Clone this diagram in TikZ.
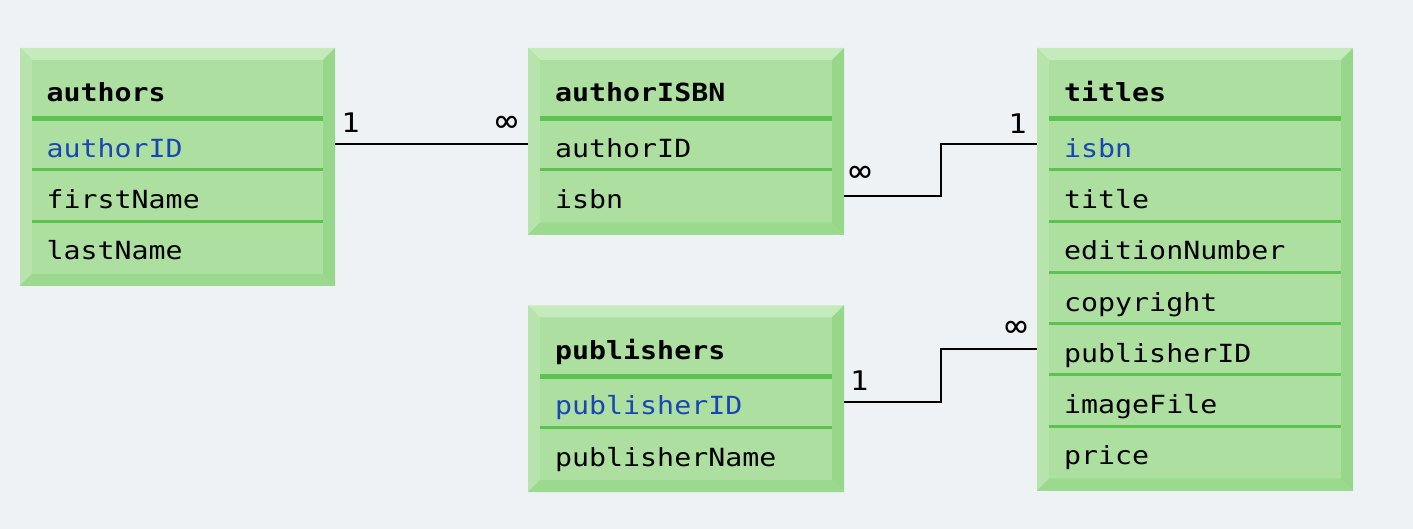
\documentclass[tikz,border=0pt]{standalone}
\usepackage{fontspec}
\usetikzlibrary{calc}
\newfontfamily\ermono[FakeStretch=1.13]{DejaVu Sans Mono}
\definecolor{erbg}{RGB}{238,242,245}
\definecolor{ermain}{RGB}{172,223,160}
\definecolor{ertop}{RGB}{197,234,188}
\definecolor{erleft}{RGB}{182,228,172}
\definecolor{erright}{RGB}{150,215,137}
\definecolor{erbottom}{RGB}{155,217,143}
\definecolor{erdiv}{RGB}{92,194,80}
\definecolor{erkey}{RGB}{24,70,180}
\newcommand\erbox[5]{% name, x1, x2, yh, nrows
  \pgfmathsetmacro\erYa{#4-70.8}
  \pgfmathsetmacro\erYb{#4+51.2*#5+13.5}
  \pgfmathsetmacro\erXa{#2+12}
  \pgfmathsetmacro\erXb{#3-12}
  \pgfmathsetmacro\erYc{\erYa+12}
  \pgfmathsetmacro\erYd{\erYb-12}
  \pgfmathsetmacro\erW{#3-#2}
  \pgfmathsetmacro\erH{\erYb-\erYa}
  \node[boxnode, minimum width=\erW pt, minimum height=\erH pt, anchor=north west] (#1) at (#2,\erYa) {};
  \fill[ertop] (#2,\erYa) -- (#3,\erYa) -- (\erXb,\erYc) -- (\erXa,\erYc) -- cycle;
  \fill[erleft] (#2,\erYa) -- (\erXa,\erYc) -- (\erXa,\erYd) -- (#2,\erYb) -- cycle;
  \fill[erright] (#3,\erYa) -- (#3,\erYb) -- (\erXb,\erYd) -- (\erXb,\erYc) -- cycle;
  \fill[erbottom] (#2,\erYb) -- (#3,\erYb) -- (\erXb,\erYd) -- (\erXa,\erYd) -- cycle;
  \fill[erdiv] (\erXa,#4-2.3) rectangle (\erXb,#4+2.3);
  \pgfmathtruncatemacro\erN{#5-1}
  \ifnum\erN>0
    \foreach \k in {1,...,\erN} {
      \fill[erdiv] (\erXa,{#4+51.2*\k-1.5}) rectangle (\erXb,{#4+51.2*\k+1.5});
    }
  \fi
}
\tikzset{
  boxnode/.style={rectangle, inner sep=0pt, fill=ermain},
  headtext/.style={anchor=base west, inner sep=0pt, font=\ermono\bfseries\fontsize{25}{30}\selectfont},
  rowtext/.style={anchor=west, inner sep=0pt, text height=32pt, text depth=6pt, font=\ermono\fontsize{25}{30}\selectfont},
  keytext/.style={rowtext, text=erkey},
  conn/.style={draw=black, line width=2pt},
  card/.style={anchor=base, inner sep=0pt, font=\ermono\fontsize{27}{30}\selectfont},
  cardinf/.style={anchor=base, inner sep=0pt, font=\ermono\fontsize{33}{36}\selectfont}
}
\begin{document}
\begin{tikzpicture}[x=1pt, y=-1pt]
\useasboundingbox (0,0) rectangle (1413,529);
\fill[erbg] (0,0) rectangle (1413,529);

% authors
\erbox{authors}{20}{335}{118.8}{3}
\node[headtext] (a-h) at (46.5,101.8) {authors};
\node[keytext] (a-authorID) at (46.5,{118.8+25.7}) {authorID};
\node[rowtext] (a-firstName) at (46.5,{118.8+51.2+25.7}) {firstName};
\node[rowtext] (a-lastName) at (46.5,{118.8+2*51.2+25.7}) {lastName};

% authorISBN
\erbox{aisbn}{528}{844}{118.8}{2}
\node[headtext] (ai-h) at (555,101.8) {authorISBN};
\node[rowtext] (ai-authorID) at (555,{118.8+25.7}) {authorID};
\node[rowtext] (ai-isbn) at (555,{118.8+51.2+25.7}) {isbn};

% publishers
\erbox{pubs}{528}{844}{376.2}{2}
\node[headtext] (p-h) at (555,359.2) {publishers};
\node[keytext] (p-publisherID) at (555,{376.2+25.7}) {publisherID};
\node[rowtext] (p-publisherName) at (555,{376.2+51.2+25.7}) {publisherName};

% titles
\erbox{titles}{1037}{1353}{118.8}{7}
\node[headtext] (t-h) at (1064,101.8) {titles};
\node[keytext] (t-isbn) at (1064,{118.8+25.7}) {isbn};
\node[rowtext] (t-title) at (1064,{118.8+51.2+25.7}) {title};
\node[rowtext] (t-editionNumber) at (1064,{118.8+2*51.2+25.7}) {editionNumber};
\node[rowtext] (t-copyright) at (1064,{118.8+3*51.2+25.7}) {copyright};
\node[rowtext] (t-publisherID) at (1064,{118.8+4*51.2+25.7}) {publisherID};
\node[rowtext] (t-imageFile) at (1064,{118.8+5*51.2+25.7}) {imageFile};
\node[rowtext] (t-price) at (1064,{118.8+6*51.2+25.7}) {price};

% connectors
\draw[conn] (authors.east |- a-authorID) -- (aisbn.west |- ai-authorID);
\draw[conn] (aisbn.east |- ai-isbn) -| ($(aisbn.east |- ai-isbn)!0.5!(titles.west |- t-isbn)$) |- (titles.west |- t-isbn);
\draw[conn] (pubs.east |- p-publisherID) -| ($(pubs.east |- p-publisherID)!0.5!(titles.west |- t-publisherID)$) |- (titles.west |- t-publisherID);

% cardinalities
\node[card] (c1) at (350.5,132.7) {1};
\node[cardinf] (c2) at (506.7,132.5) {∞};
\node[cardinf] (c3) at (860,183) {∞};
\node[card] (c4) at (1017.5,133.3) {1};
\node[card] (c5) at (859.2,390) {1};
\node[cardinf] (c6) at (1016,337.5) {∞};
\end{tikzpicture}
\end{document}
